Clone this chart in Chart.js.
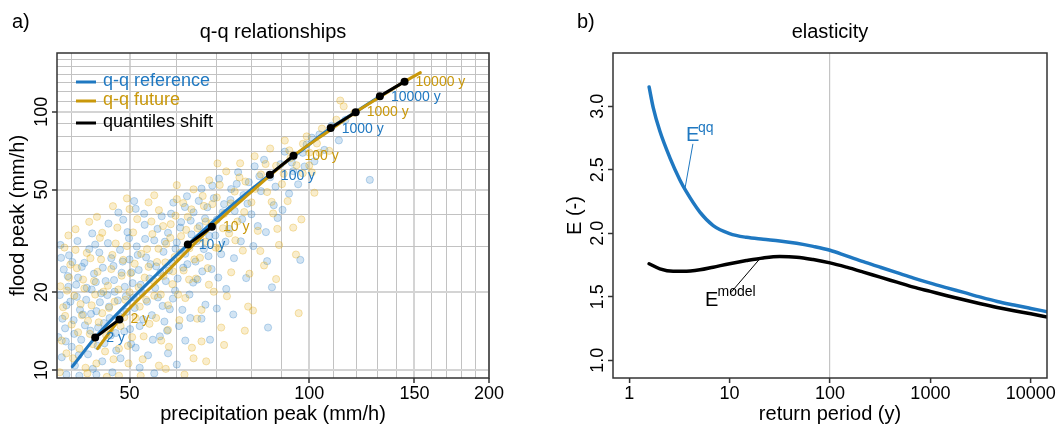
<!DOCTYPE html>
<html>
<head>
<meta charset="utf-8">
<script src="https://cdn.jsdelivr.net/npm/chart.js@4.4.1/dist/chart.umd.min.js"></script>
<style>
html, body { margin: 0; padding: 0; background: #fff; }
#wrap { position: relative; width: 1060px; height: 428px; }
canvas { position: absolute; top: 0; }
#qq { left: 0; }
#el { left: 530px; }
</style>
</head>
<body>
<div id="wrap">
  <canvas id="qq" width="530" height="428"></canvas>
  <canvas id="el" width="530" height="428"></canvas>
</div>
<script>
// ---- panel a) data ----
// observed (precipitation peak, flood peak) pairs, reference climate
var refObs = [[38.5,11.2],[39,14.5],[39.2,17.8],[39.5,21],[38.8,24.5],[40,12.3],[40.3,15.6],[40.8,19.2],[41,22.8],[40.5,10.4],
  [41.5,13.1],[41.8,16.4],[42,26],[42.3,18.7],[42.6,11.5],[43,14.2],[43.2,20.5],[43.6,23.6],[44,16.9],[44.2,12.4],
  [44.5,28.5],[44.8,19.8],[45,10.8],[45.3,15.2],[45.6,22.1],[46,31],[46.2,17.6],[46.5,13.6],[47,25.3],[47.2,20.1],
  [47.5,11.9],[48,16.2],[48.2,29.2],[48.5,23.8],[49,14.1],[49.3,19.3],[49.6,34.2],[50,26.8],[50.3,12.6],[50.6,21.7],
  [51,17.4],[51.4,30.1],[51.8,24.4],[52,14.8],[52.5,19.9],[53,36.5],[53.3,27.3],[53.7,11.4],[54,22.6],[54.5,16.3],
  [55,31.8],[55.4,25.2],[55.8,19.1],[56.2,13.5],[56.6,39.4],[57,28.7],[57.5,22.1],[58,34],[58.4,17.2],[58.8,26.1],
  [59.2,44.5],[59.6,20.3],[60,31.2],[60.5,14.8],[61,37.4],[61.5,24.9],[62,28.2],[62.4,47.1],[63,19.6],[63.5,33.5],
  [64,40.8],[64.5,26.3],[65,22.4],[65.5,36.1],[66,50.4],[66.6,29.4],[67,17.9],[67.5,42.7],[68,33.1],[68.6,24.6],
  [69.2,46.3],[70,38.2],[70.6,55.1],[71.2,28.1],[72,43.9],[72.6,20.6],[73.4,35.2],[74,50.2],[75,41.3],[76,58.4],
  [76.8,31.5],[77.6,47.6],[78.4,22.7],[79.2,53.4],[80,40.1],[81,61.5],[82,36.1],[83,49.3],[84,65.2],[85,26.4],
  [86,55.8],[86.6,20.9],[87.2,43.5],[88.5,38.8],[89.5,62.7],[91,70.1],[92.5,48.2],[94,58.9],[96.6,26.7],[97.5,69.4],
  [99,74.8],[102,64.3],[104,81.7],[106,71.2],[109,88.3],[112.1,77.5],[115,93.1],[126.3,54.5],[85.3,14.6],[58,11.6],
  [62,13],[66,15.8],[70,17.3],[44,9.6],[52,10.2],[60,10.5],[38,13.4],[38.2,19.5],[39.6,27.8],[41.2,9.5],
  [43.8,30.6],[46.8,9.8],[48.8,38.2],[51.2,42.1],[55,9.7],[57.2,15.4],[63.2,15.9],[68.2,13.1],[74.6,16.4],[38.3,30.5],
  [38.6,15.8],[39.1,12.9],[39.4,23.1],[39.8,18.4],[40.1,26.2],[40.4,13.8],[40.7,21.4],[41.1,11.4],[41.3,17.1],[41.6,25.1],
  [42.1,14.9],[42.4,20.8],[42.8,29.4],[43.1,16.5],[43.4,10.1],[43.9,21.9],[44.3,14.6],[44.6,18.3],[45.1,24.9],[45.4,12.7],
  [45.9,19.5],[46.3,15.9],[46.6,27.1],[47.1,22.3],[47.4,13.9],[47.8,18.6],[48.3,11.1],[48.7,26.3],[49.1,21],[49.4,16.8],
  [49.9,32.4],[50.1,14.4],[50.4,23.9],[50.8,19.1],[51.2,12.2],[51.6,27.9],[52.2,21.4],[52.7,15.7],[53.1,32.2],[53.5,18.4],
  [54.2,25.7],[54.7,13.1],[55.2,20.8],[55.7,35.2],[56.3,23.8],[56.8,17.7],[57.3,31.4],[57.8,14.2],[58.2,24.3],[58.7,40.3],
  [59.1,18.9],[59.7,29.5],[60.2,22.6],[60.8,35.6],[61.3,17.1],[61.9,42.8],[62.5,25.7],[63.3,37.9],[63.9,21.8],[64.8,31.6],
  [65.3,45.2],[66.2,24.1],[66.9,38.6],[67.8,27.6],[68.8,51.8],[69.6,33.2],[70.4,22.8],[71.6,40.8],[72.4,31.4],[73.8,45.6],
  [74.8,27.1],[75.6,52.6],[77.2,38.4],[78.8,44.1],[80.6,30.2],[82.5,56.3],[84.6,34.2],[87.8,51.3],[90.2,41.7],[93.5,63.6],
  [95.8,52.4],[98.2,61.4],[101,79.4],[38.4,27.2],[39.2,9.6],[40.9,31.6],[43.3,33.8],[46.1,36.9],[47.9,40.7],[50.9,45.1],
  [52.9,40.3]];
// observed pairs, future climate
var futObs = [[38.5,13],[39,16.2],[39.3,20.3],[39.8,25.6],[40.2,11.1],[40.6,29.2],[41,14],[41.4,18],[41.8,22.4],[42.2,10.2],
  [42.6,15.5],[43,27.1],[43.4,12.6],[43.8,19.6],[44.2,24],[44.6,32.5],[45,16.6],[45.5,11.8],[46,21.2],[46.4,14.4],
  [46.8,27.9],[47.2,18.4],[47.7,35.6],[48,12.1],[48.5,23.2],[49,16],[49.5,30.2],[50,20],[50.5,13.4],[51,25.8],
  [51.5,38.4],[52,17.6],[52.6,11],[53,22.8],[53.5,29.4],[54,15.1],[54.6,33.6],[55,19.4],[55.6,26.2],[56,41.6],
  [56.5,13],[57,23.1],[57.6,30.8],[58,17.8],[58.6,36.7],[59,21.5],[59.5,27.4],[60,45.9],[60.6,15.6],[61,33],
  [61.6,24.3],[62,19],[62.6,39.2],[63,29.6],[63.6,12.2],[64,50.1],[64.6,22.6],[65,35.4],[65.6,27.2],[66,17.1],
  [66.6,43.2],[67,31.4],[67.6,24.8],[68,54.3],[68.6,37.1],[69.2,20.1],[70,46.6],[70.6,29.6],[71.2,14.6],[72,40.3],
  [72.6,58.8],[73.4,33.8],[74,23.9],[75,49.1],[75.8,37.6],[76.6,63.2],[77.4,29],[78.2,53.7],[79,17.6],[80,44.6],
  [80.5,17],[81,67.3],[82,34.6],[83,57.2],[84,25.4],[85,48.9],[86,72.1],[87,40.4],[88,61.8],[89,30.5],
  [90,52.5],[91,77.4],[92,45.1],[93,66.2],[94,35.6],[96,16.6],[97,38.3],[97.5,57.8],[99,80.3],[100,69.5],
  [102,48.6],[103,75.4],[105,86.1],[108,70.6],[111,93.2],[112.7,110.6],[114.2,105],[119,99.1],[56,10.4],[64,11.1],
  [72,12.5],[48,9.5],[78,14.2],[88,22.5],[95,28],[45,34],[50,42],[55,47.5],[60,52],[100,62],
  [38.2,9.8],[39.5,33.2],[42.8,37.5],[45.8,9.4],[49.8,10.6],[53.8,44.6],[58.2,12.3],[61.8,9.6],[67.2,10.8],[70.2,63.1],
  [38.7,17.5],[39.2,11.6],[39.6,22.8],[40,15],[40.4,19.4],[40.8,24.8],[41.2,12.1],[41.6,16.3],[42,20.7],[42.4,28.4],
  [42.9,13.8],[43.2,17.8],[43.6,22.1],[44,10.6],[44.4,15.3],[44.8,26.8],[45.2,20.1],[45.7,13.6],[46.2,17.4],[46.6,24.6],
  [47,11],[47.4,30.9],[47.9,20.5],[48.3,14.8],[48.8,26.7],[49.2,18.7],[49.7,12.4],[50.2,23.7],[50.7,34.1],[51.2,15.9],
  [51.8,20.9],[52.3,28.2],[52.8,13.5],[53.3,18.7],[53.8,25.1],[54.4,37.6],[54.9,22.1],[55.4,15.9],[55.9,29.5],[56.4,19.6],
  [56.9,36.1],[57.4,26.1],[58,14.3],[58.5,32.5],[59.1,24.1],[59.7,39.6],[60.3,19.6],[60.9,28.5],[61.5,44.3],[62.2,34.9],
  [62.9,22.4],[63.5,41.9],[64.2,26.8],[64.9,15.8],[65.6,32.3],[66.3,47.2],[67.1,37.6],[67.9,21.4],[68.8,43.9],[69.7,29.8],
  [70.8,52.1],[71.7,35.4],[72.8,19.3],[73.9,44.2],[75.2,31.8],[76.4,55.7],[77.8,40.9],[79.4,23.6],[81.2,50.3],[82.8,28.9],
  [84.5,62.8],[86.5,44.8],[88.4,35.2],[90.6,57.6],[92.6,70.9],[95.2,62.1],[97.6,75.2],[101,58.3],[104,69.4],[38.3,21.1],
  [38.9,29.8],[40.6,35.1],[42.5,9.7],[44.1,39.2],[46.9,43.1],[49.5,46.2],[52.2,9.5],[57.5,10.1],[66,12.9]];

// fitted q-q curves
var refLineX = [40.1, 43.8, 52, 62.6, 74, 85.9, 97.5, 108.6, 120, 131.3];
var refLineY = [10.3, 13.37, 20.2, 30.6, 43.2, 57.1, 71.5, 86.5, 100.4, 115];
var futLineX = [44.2, 48.1, 57, 68.7, 80.5, 94.1, 106.5, 119.6, 132, 144.4, 153.5];
var futLineY = [12.1, 15.7, 23.3, 35.9, 49.6, 67.6, 82.6, 99.7, 115, 130.9, 141.8];

// quantiles for given return periods
var periods = ['2 y', '10 y', '100 y', '1000 y', '10000 y'];
var refQx = [43.8, 62.6, 85.9, 108.6, 131.3];
var refQy = [13.37, 30.6, 57.1, 86.5, 115];
var futQx = [48.1, 68.7, 94.1, 119.6, 144.4];
var futQy = [15.7, 35.9, 67.6, 99.7, 130.9];

var gridX = [40, 50, 60, 70, 80, 90, 100, 110, 120, 130, 140, 150, 160, 170, 180, 190, 200];
var labelX = [50, 100, 150, 200];
var gridY = [10, 20, 30, 40, 50, 60, 70, 80, 90, 100, 110, 120, 130, 140, 150, 160];
var labelY = [10, 20, 50, 100];

// ---- panel b) data ----
var tQQ = [1.58, 1.735, 2.02, 2.54, 3.2, 3.67, 5.06, 6.87, 10, 14.7, 21.6, 31.6, 46.5, 68, 100, 146, 215, 316, 464,
  680, 1000, 1467, 2150, 3160, 4640, 6800, 10000, 14600];
var eQQ = [3.152, 2.99, 2.805, 2.596, 2.42, 2.334, 2.167, 2.061, 1.998, 1.968, 1.953, 1.94, 1.922, 1.897, 1.866, 1.822,
  1.776, 1.733, 1.69, 1.647, 1.607, 1.57, 1.534, 1.497, 1.463, 1.435, 1.408, 1.382];
var tModel = [1.58, 2.02, 2.74, 3.45, 5.06, 6.87, 10, 14.7, 21.6, 31.6, 46.5, 68, 100, 146, 215, 316, 464, 680,
  1000, 1467, 2150, 3160, 4640, 6800, 10000, 14600];
var eModel = [1.76, 1.72, 1.70, 1.70, 1.712, 1.733, 1.76, 1.785, 1.806, 1.817, 1.812, 1.793, 1.767, 1.733, 1.694,
  1.654, 1.615, 1.576, 1.542, 1.508, 1.476, 1.445, 1.416, 1.39, 1.366, 1.34];
var ticksT = [1, 10, 100, 1000, 10000];
var ticksE = [1.0, 1.5, 2.0, 2.5, 3.0];

var FONT = "'Liberation Sans', Arial, sans-serif";
var BLUE = '#1f78c1';
var GOLD = '#c9980b';

function pairs(arr) { return arr.map(function (p) { return {x: p[0], y: p[1]}; }); }
function zipXY(xs, ys) { return xs.map(function (x, i) { return {x: x, y: ys[i]}; }); }

var shiftPts = [];
for (var i = 0; i < periods.length; i++) {
  shiftPts.push({x: refQx[i], y: refQy[i]});
  shiftPts.push({x: futQx[i], y: futQy[i]});
  shiftPts.push({x: futQx[i], y: null});
}

function txt(ctx, s, x, y, size, color, align, rot) {
  ctx.save();
  ctx.font = size + 'px ' + FONT;
  ctx.fillStyle = color;
  ctx.textAlign = align || 'center';
  ctx.textBaseline = 'middle';
  ctx.translate(x, y);
  if (rot) ctx.rotate(rot);
  ctx.fillText(s, 0, 0);
  ctx.restore();
}

function box(chart) {
  var a = chart.chartArea, ctx = chart.ctx;
  ctx.save();
  ctx.strokeStyle = '#333';
  ctx.lineWidth = 1.5;
  ctx.strokeRect(a.left, a.top, a.right - a.left, a.bottom - a.top);
  ctx.restore();
}

var qqDecor = {
  id: 'qqDecor',
  afterDraw: function (chart) {
    var ctx = chart.ctx, a = chart.chartArea, sx = chart.scales.x, sy = chart.scales.y;
    box(chart);
    var cx = (a.left + a.right) / 2;
    txt(ctx, 'a)', 12, 22, 20, '#000', 'left');
    txt(ctx, 'q-q relationships', cx, 32, 20, '#000');
    txt(ctx, 'precipitation peak (mm/h)', cx, 414, 20, '#000');
    txt(ctx, 'flood peak (mm/h)', 18, (a.top + a.bottom) / 2, 20, '#000', 'center', -Math.PI / 2);
    // legend
    var items = [['q-q reference', BLUE, 82], ['q-q future', GOLD, 101], ['quantiles shift', '#000', 123]];
    items.forEach(function (it) {
      ctx.save();
      ctx.strokeStyle = it[1];
      ctx.lineWidth = 3;
      ctx.beginPath();
      ctx.moveTo(76, it[2]);
      ctx.lineTo(96, it[2]);
      ctx.stroke();
      ctx.restore();
      txt(ctx, it[0], 103, it[2] - 1, 18, it[1], 'left');
    });
    // return period labels
    for (var i = 0; i < periods.length; i++) {
      txt(ctx, periods[i], sx.getPixelForValue(refQx[i]) + 11, sy.getPixelForValue(refQy[i]) + 1, 14, BLUE, 'left');
      txt(ctx, periods[i], sx.getPixelForValue(futQx[i]) + 11, sy.getPixelForValue(futQy[i]), 14, GOLD, 'left');
    }
  }
};

function isIn(list, c) { return c.tick && list.indexOf(c.tick.value) >= 0; }

new Chart(document.getElementById('qq'), {
  type: 'scatter',
  data: {
    datasets: [
      {label: 'quantiles shift', data: shiftPts, showLine: true, spanGaps: false, borderColor: '#000', borderWidth: 3,
        pointRadius: 4, pointBackgroundColor: '#000', pointBorderWidth: 0, order: 1},
      {label: 'q-q future', data: zipXY(futLineX, futLineY), showLine: true, borderColor: GOLD, borderWidth: 3,
        pointRadius: 0, cubicInterpolationMode: 'monotone', borderCapStyle: 'round', order: 2},
      {label: 'q-q reference', data: zipXY(refLineX, refLineY), showLine: true, borderColor: BLUE, borderWidth: 3,
        pointRadius: 0, cubicInterpolationMode: 'monotone', borderCapStyle: 'round', order: 3},
      {label: 'future obs', data: pairs(futObs), pointRadius: 3.6, backgroundColor: 'rgba(226,172,24,0.22)',
        borderColor: 'rgba(226,172,24,0.32)', borderWidth: 1, clip: 0, order: 4},
      {label: 'reference obs', data: pairs(refObs), pointRadius: 3.6, backgroundColor: 'rgba(31,120,193,0.2)',
        borderColor: 'rgba(31,120,193,0.28)', borderWidth: 1, clip: 0, order: 5}
    ]
  },
  options: {
    responsive: false,
    animation: false,
    events: [],
    layout: {padding: {top: 53, left: 0, right: 41, bottom: 0}},
    plugins: {legend: {display: false}, tooltip: {enabled: false}},
    scales: {
      x: {
        type: 'logarithmic', min: 37.8, max: 200,
        afterBuildTicks: function (s) { s.ticks = gridX.map(function (v) { return {value: v}; }); },
        afterFit: function (s) { s.height = 50; },
        border: {display: false},
        grid: {
          color: function (c) { return isIn(labelX, c) ? '#d4d4d4' : '#c2c2c2'; },
          lineWidth: function (c) { return isIn(labelX, c) ? 2 : 1; },
          tickColor: function (c) { return isIn(labelX, c) ? '#333' : 'rgba(0,0,0,0)'; },
          tickLength: 5, tickWidth: 1.5
        },
        ticks: {
          autoSkip: false, minRotation: 0, maxRotation: 0, padding: 0, color: '#000',
          font: {family: FONT, size: 18},
          callback: function (v) { return labelX.indexOf(v) >= 0 ? String(v) : ''; }
        }
      },
      y: {
        type: 'logarithmic', min: 9.31, max: 169,
        afterBuildTicks: function (s) { s.ticks = gridY.map(function (v) { return {value: v}; }); },
        afterFit: function (s) { s.width = 57; },
        border: {display: false},
        grid: {
          color: function (c) { return isIn(labelY, c) ? '#d4d4d4' : '#c2c2c2'; },
          lineWidth: function (c) { return isIn(labelY, c) ? 2 : 1; },
          tickColor: function (c) { return isIn(labelY, c) ? '#333' : 'rgba(0,0,0,0)'; },
          tickLength: 5, tickWidth: 1.5
        },
        ticks: {
          autoSkip: false, minRotation: 90, maxRotation: 90, crossAlign: 'center', padding: -5, color: '#000',
          font: {family: FONT, size: 18},
          callback: function (v) { return labelY.indexOf(v) >= 0 ? String(v) : ''; }
        }
      }
    }
  },
  plugins: [qqDecor]
});

var elDecor = {
  id: 'elDecor',
  afterDraw: function (chart) {
    var ctx = chart.ctx, a = chart.chartArea, sx = chart.scales.x, sy = chart.scales.y;
    box(chart);
    var cx = (a.left + a.right) / 2;
    txt(ctx, 'b)', 47, 22, 20, '#000', 'left');
    txt(ctx, 'elasticity', cx, 32, 20, '#000');
    txt(ctx, 'return period (y)', cx, 414, 20, '#000');
    txt(ctx, 'E (-)', 45, (a.top + a.bottom) / 2, 20, '#000', 'center', -Math.PI / 2);
    // E^qq annotation
    var px = sx.getPixelForValue(3.59), py = sy.getPixelForValue(2.35);
    ctx.save();
    ctx.strokeStyle = BLUE; ctx.lineWidth = 1;
    ctx.beginPath(); ctx.moveTo(px + 8, py - 45); ctx.lineTo(px, py); ctx.stroke();
    ctx.restore();
    ctx.save();
    ctx.textBaseline = 'alphabetic'; ctx.textAlign = 'left'; ctx.fillStyle = BLUE;
    ctx.font = '20px ' + FONT; ctx.fillText('E', px + 1, py - 48);
    ctx.font = '14px ' + FONT; ctx.fillText('qq', px + 13, py - 57);
    ctx.restore();
    // E^model annotation
    px = sx.getPixelForValue(19.8); py = sy.getPixelForValue(1.795);
    ctx.save();
    ctx.strokeStyle = '#000'; ctx.lineWidth = 1;
    ctx.beginPath(); ctx.moveTo(px - 28.6, py + 33.4); ctx.lineTo(px, py); ctx.stroke();
    ctx.textBaseline = 'alphabetic'; ctx.textAlign = 'left'; ctx.fillStyle = '#000';
    ctx.font = '20px ' + FONT; ctx.fillText('E', px - 54.3, py + 46.7);
    ctx.font = '14px ' + FONT; ctx.fillText('model', px - 41.8, py + 37.2);
    ctx.restore();
  }
};

new Chart(document.getElementById('el'), {
  type: 'scatter',
  data: {
    datasets: [
      {label: 'E model', data: zipXY(tModel, eModel), showLine: true, borderColor: '#000', borderWidth: 3.5,
        pointRadius: 0, cubicInterpolationMode: 'monotone', borderCapStyle: 'round'},
      {label: 'E qq', data: zipXY(tQQ, eQQ), showLine: true, borderColor: BLUE, borderWidth: 3.5,
        pointRadius: 0, cubicInterpolationMode: 'monotone', borderCapStyle: 'round'}
    ]
  },
  options: {
    responsive: false,
    animation: false,
    events: [],
    layout: {padding: {top: 53, left: 0, right: 13, bottom: 0}},
    plugins: {legend: {display: false}, tooltip: {enabled: false}},
    scales: {
      x: {
        type: 'logarithmic', min: 0.69, max: 14500,
        afterBuildTicks: function (s) { s.ticks = ticksT.map(function (v) { return {value: v}; }); },
        afterFit: function (s) { s.height = 50; },
        border: {display: false},
        grid: {
          color: function (c) { return c.tick && c.tick.value === 100 ? '#c4c4c4' : 'rgba(0,0,0,0)'; },
          lineWidth: 1.2,
          tickColor: '#333', tickLength: 5, tickWidth: 1.5
        },
        ticks: {
          autoSkip: false, minRotation: 0, maxRotation: 0, padding: 0, color: '#000',
          font: {family: FONT, size: 18},
          callback: function (v) { return String(v); }
        }
      },
      y: {
        min: 0.86, max: 3.42,
        afterBuildTicks: function (s) { s.ticks = ticksE.map(function (v) { return {value: v}; }); },
        afterFit: function (s) { s.width = 83; },
        border: {display: false},
        grid: {drawOnChartArea: false, tickColor: '#333', tickLength: 5, tickWidth: 1.5},
        ticks: {
          autoSkip: false, minRotation: 90, maxRotation: 90, crossAlign: 'center', padding: -3, color: '#000',
          font: {family: FONT, size: 18},
          callback: function (v) { return v.toFixed(1); }
        }
      }
    }
  },
  plugins: [elDecor]
});
</script>
</body>
</html>
